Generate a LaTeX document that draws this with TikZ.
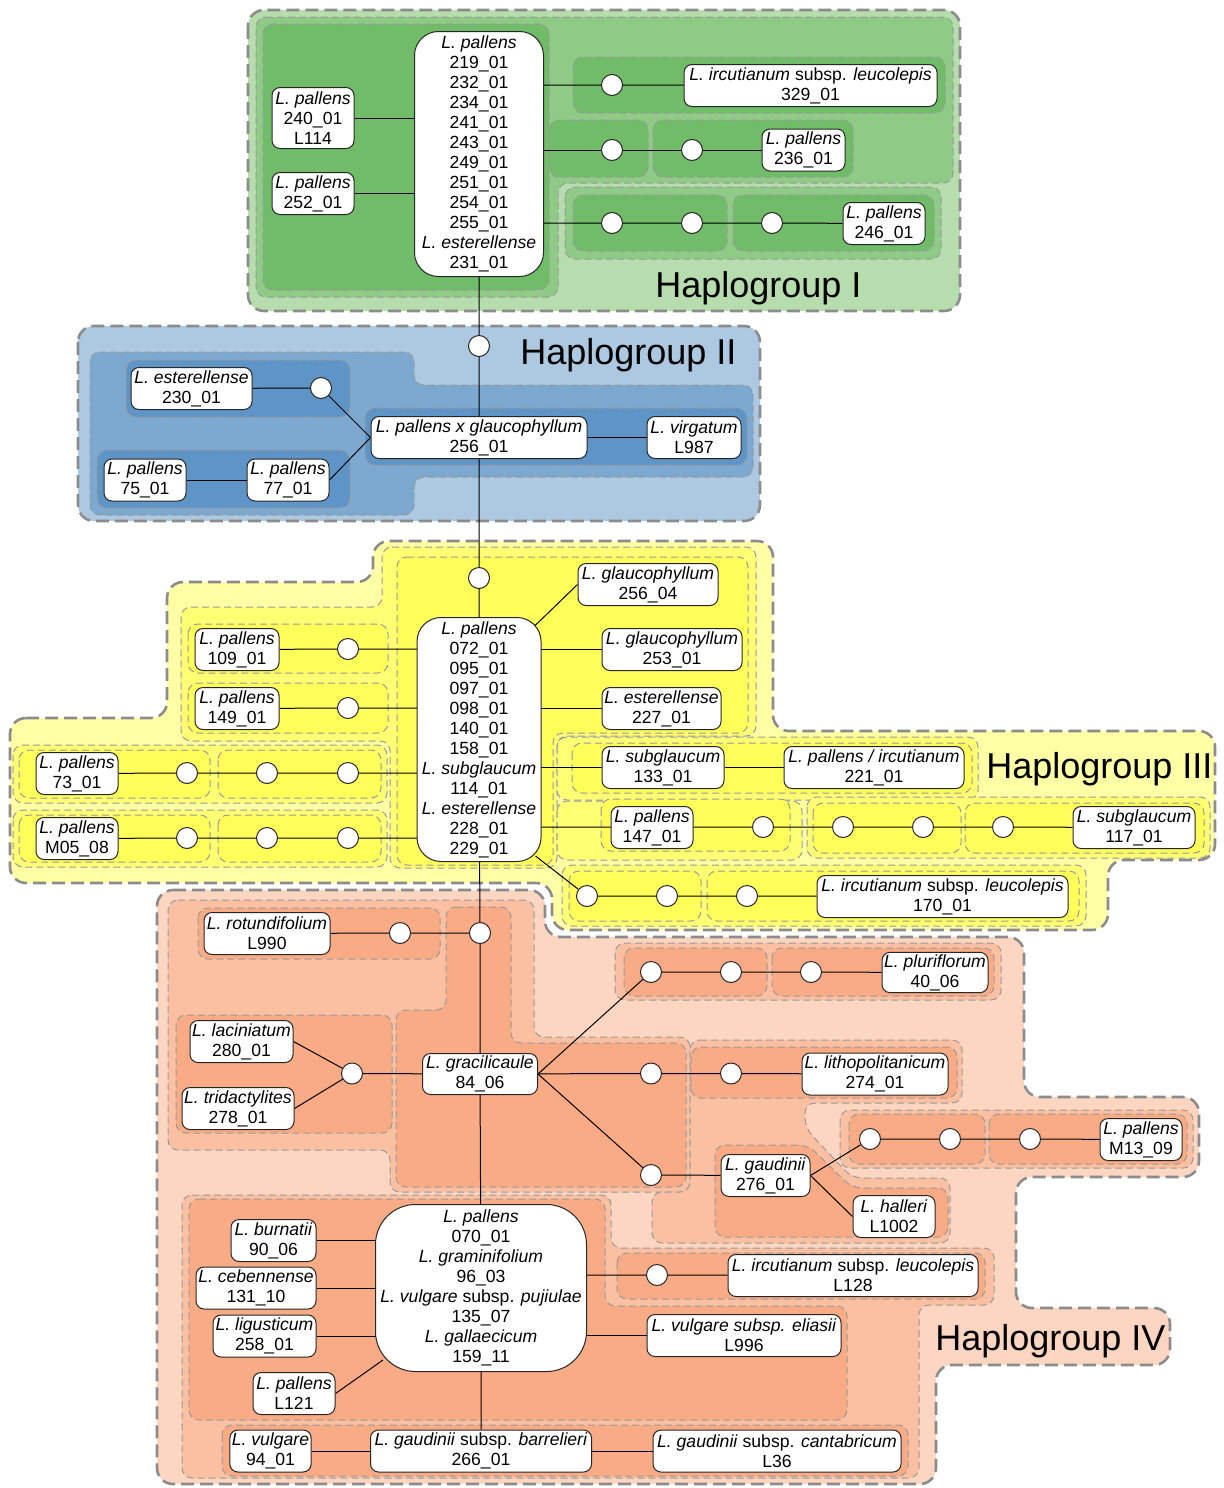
\documentclass[tikz,border=0pt]{standalone}
\usepackage{fontspec}
\setmainfont{Liberation Sans}
\pgfdeclarelayer{regions}
\pgfdeclarelayer{links}
\pgfsetlayers{regions,links,main}

\definecolor{gOut}{RGB}{183,221,175}
\definecolor{gMid}{RGB}{143,203,134}
\definecolor{gDk}{RGB}{113,188,104}
\definecolor{bOut}{RGB}{173,201,225}
\definecolor{bMid}{RGB}{125,169,209}
\definecolor{bDk}{RGB}{95,149,198}
\definecolor{yOut}{RGB}{255,255,166}
\definecolor{yMid}{RGB}{255,255,116}
\definecolor{yDk}{RGB}{255,255,90}
\definecolor{sOut}{RGB}{253,214,194}
\definecolor{sMid}{RGB}{251,192,161}
\definecolor{sDk}{RGB}{249,171,134}

\tikzset{
  hgA/.style={draw=black!45, line width=1.3pt, dash pattern=on 6.5pt off 3pt, rounded corners=8pt},
  hgB/.style={draw=black!40, line width=0.5pt, dash pattern=on 3.5pt off 2pt, rounded corners=5pt},
  tx/.style={draw=black!85, fill=white, rounded corners=4pt, line width=0.5pt, align=center,
    inner xsep=1pt, inner ysep=1pt, font=\fontsize{8.8}{10}\selectfont, minimum height=21pt},
  bignode/.style={tx, rounded corners=12pt},
  dot/.style={circle, draw=black!85, fill=white, line width=0.5pt, minimum size=10.5pt, inner sep=0pt},
  link/.style={draw=black, line width=0.5pt},
  hglabel/.style={font=\fontsize{18}{20}\selectfont, inner sep=0pt, anchor=base west},
}

\begin{document}
\begin{tikzpicture}[x=0.5pt,y=-0.5pt]
\useasboundingbox (0,0) rectangle (1224,1488);

% ---------------- nodes ----------------
% Haplogroup I
\node[bignode, minimum width=64.5pt, minimum height=122.5pt] (bigI) at (479,154)
  {\textit{L. pallens}\\219\_01\\232\_01\\234\_01\\241\_01\\243\_01\\249\_01\\251\_01\\254\_01\\255\_01\\\textit{L. esterellense}\\231\_01};
\node[tx, minimum width=41pt, minimum height=30.5pt] (n240) at (313,118) {\textit{L. pallens}\\240\_01\\L114};
\node[tx, minimum width=41pt] (n252) at (313,193.5) {\textit{L. pallens}\\252\_01};
\node[dot] (cI1) at (612,85) {};
\node[tx, minimum width=126.5pt] (n329) at (810.5,85.5) {\textit{L. ircutianum} subsp. \textit{leucolepis}\\329\_01};
\node[dot] (cI2) at (612,150) {};
\node[dot] (cI3) at (692,150) {};
\node[tx, minimum width=41.5pt] (n236) at (803.5,150) {\textit{L. pallens}\\236\_01};
\node[dot] (cI4) at (612,223) {};
\node[dot] (cI5) at (692,223) {};
\node[dot] (cI6) at (772,223) {};
\node[tx, minimum width=41pt] (n246) at (884,223.5) {\textit{L. pallens}\\246\_01};
\node[hglabel] (hI) at (655,297) {Haplogroup I};

% Haplogroup II
\node[dot] (cII0) at (479,346) {};
\node[tx, minimum width=60.5pt] (n230) at (191.5,388.5) {\textit{L. esterellense}\\230\_01};
\node[dot] (cII1) at (321,388) {};
\node[tx, minimum width=41pt] (n75) at (145,480) {\textit{L. pallens}\\75\_01};
\node[tx, minimum width=41pt] (n77) at (288,480) {\textit{L. pallens}\\77\_01};
\node[tx, minimum width=108pt] (n256) at (479,437.5) {\textit{L. pallens x glaucophyllum}\\256\_01};
\node[tx, minimum width=47pt] (nL987) at (694,437.5) {\textit{L. virgatum}\\L987};
\node[hglabel] (hII) at (520,364) {Haplogroup II};

% Haplogroup III
\node[dot] (cIII0) at (479,578) {};
\node[bignode, minimum width=62pt, minimum height=122pt] (bigIII) at (479,739.5)
  {\textit{L. pallens}\\072\_01\\095\_01\\097\_01\\098\_01\\140\_01\\158\_01\\\textit{L. subglaucum}\\114\_01\\\textit{L. esterellense}\\228\_01\\229\_01};
\node[tx, minimum width=70pt] (n25604) at (648,584.5) {\textit{L. glaucophyllum}\\256\_04};
\node[tx, minimum width=70pt] (n253) at (672,649.5) {\textit{L. glaucophyllum}\\253\_01};
\node[tx, minimum width=59.5pt] (n227) at (661.5,708.5) {\textit{L. esterellense}\\227\_01};
\node[tx, minimum width=61pt] (n133) at (663,767.5) {\textit{L. subglaucum}\\133\_01};
\node[tx, minimum width=90pt] (n221) at (874,767.5) {\textit{L. pallens / ircutianum}\\221\_01};
\node[tx, minimum width=41pt] (n147) at (652,827.5) {\textit{L. pallens}\\147\_01};
\node[dot] (c147) at (763,827) {};
\node[dot] (c117a) at (843,827) {};
\node[dot] (c117b) at (923,827) {};
\node[dot] (c117c) at (1003,827) {};
\node[tx, minimum width=61pt] (n117) at (1134,827.5) {\textit{L. subglaucum}\\117\_01};
\node[dot] (c170a) at (587,896) {};
\node[dot] (c170b) at (667,896) {};
\node[dot] (c170c) at (747,896) {};
\node[tx, minimum width=125.5pt] (n170) at (942.5,896.5) {\textit{L. ircutianum} subsp. \textit{leucolepis}\\170\_01};
\node[tx, minimum width=42pt] (n109) at (237,649.5) {\textit{L. pallens}\\109\_01};
\node[dot] (c109) at (348,649) {};
\node[tx, minimum width=42pt] (n149) at (237,708.5) {\textit{L. pallens}\\149\_01};
\node[dot] (c149) at (348,708) {};
\node[tx, minimum width=41pt] (n73) at (77,773.5) {\textit{L. pallens}\\73\_01};
\node[dot] (c73a) at (187,773) {};
\node[dot] (c73b) at (267,773) {};
\node[dot] (c73c) at (348,773) {};
\node[tx, minimum width=41pt] (nM05) at (77,838.5) {\textit{L. pallens}\\M05\_08};
\node[dot] (cM05a) at (187,838) {};
\node[dot] (cM05b) at (267,838) {};
\node[dot] (cM05c) at (348,838) {};
\node[hglabel] (hIII) at (986,778) {Haplogroup III};

% Haplogroup IV
\node[dot] (cIV0) at (480,933) {};
\node[dot] (cL990) at (400,933) {};
\node[tx, minimum width=63pt] (nL990) at (267,933.5) {\textit{L. rotundifolium}\\L990};
\node[tx, minimum width=57.5pt, minimum height=20.5pt] (n84) at (480,1074) {\textit{L. gracilicaule}\\84\_06};
\node[dot] (cLac) at (352,1073.5) {};
\node[tx, minimum width=51.5pt] (n280) at (241.5,1041.5) {\textit{L. laciniatum}\\280\_01};
\node[tx, minimum width=56pt] (n278) at (238,1108.5) {\textit{L. tridactylites}\\278\_01};
\node[dot] (cPl1) at (651,972) {};
\node[dot] (cPl2) at (731,972) {};
\node[dot] (cPl3) at (811,972) {};
\node[tx, minimum width=53pt, minimum height=20pt] (n40) at (935,972.5) {\textit{L. pluriflorum}\\40\_06};
\node[dot] (cLi1) at (651,1073.5) {};
\node[dot] (cLi2) at (731,1073.5) {};
\node[tx, minimum width=73pt] (n274) at (875,1074) {\textit{L. lithopolitanicum}\\274\_01};
\node[dot] (cGa) at (651,1175) {};
\node[tx, minimum width=44.5pt] (n276) at (765.5,1175.5) {\textit{L. gaudinii}\\276\_01};
\node[tx, minimum width=41pt] (n1002) at (894,1216.5) {\textit{L. halleri}\\L1002};
\node[dot] (cM1) at (870,1139) {};
\node[dot] (cM2) at (950,1139) {};
\node[dot] (cM3) at (1030,1139) {};
\node[tx, minimum width=41pt] (nM13) at (1141,1139.5) {\textit{L. pallens}\\M13\_09};
\node[tx, rounded corners=20pt, minimum width=105.5pt, minimum height=83.5pt] (bigIV) at (481,1288)
  {\textit{L. pallens}\\070\_01\\\textit{L. graminifolium}\\96\_03\\\textit{L. vulgare} subsp. \textit{pujiulae}\\135\_07\\\textit{L. gallaecicum}\\159\_11};
\node[tx, minimum width=42.5pt] (n90) at (273.5,1240.5) {\textit{L. burnatii}\\90\_06};
\node[tx, minimum width=60pt] (n131) at (256,1288) {\textit{L. cebennense}\\131\_10};
\node[tx, minimum width=51.5pt] (n258) at (264.5,1336) {\textit{L. ligusticum}\\258\_01};
\node[tx, minimum width=41pt] (nL121) at (294,1393.5) {\textit{L. pallens}\\L121};
\node[dot] (cL128) at (657,1275) {};
\node[tx, minimum width=125pt] (nL128) at (853,1275.5) {\textit{L. ircutianum} subsp. \textit{leucolepis}\\L128};
\node[tx, minimum width=97pt] (nL996) at (744,1335.5) {\textit{L. vulgare subsp. eliasii}\\L996};
\node[tx, minimum width=40.5pt] (n94) at (270.5,1451) {\textit{L. vulgare}\\94\_01};
\node[tx, minimum width=110.5pt] (n266) at (481,1451) {\textit{L. gaudinii} subsp. \textit{barrelieri}\\266\_01};
\node[tx, minimum width=124pt] (nL36) at (777,1451) {\textit{L. gaudinii} subsp. \textit{cantabricum}\\L36};
\node[hglabel] (hIV) at (935,1350) {Haplogroup IV};

% ---------------- connectors ----------------
\begin{pgfonlayer}{links}
% main backbone
\draw[link] (bigI) -- (cII0) -- (n256) -- (cIII0) -- (bigIII) -- (cIV0) -- (n84) -- (bigIV) -- (n266);
% Haplogroup I
\draw[link] (n240) -- (n240 -| bigI);
\draw[link] (n252) -- (n252 -| bigI);
\draw[link] (cI1 -| bigI) -- (cI1) -- (n329);
\draw[link] (cI2 -| bigI) -- (cI2) -- (cI3) -- (n236);
\draw[link] (cI4 -| bigI) -- (cI4) -- (cI5) -- (cI6) -- (n246);
% Haplogroup II
\draw[link] (n230) -- (cII1) -- (n256.west);
\draw[link] (n75) -- (n77);
\draw[link] (n77.east) -- (n256.west);
\draw[link] (n256) -- (nL987);
% Haplogroup III
\draw[link] ([xshift=-5pt,yshift=-6pt]bigIII.north east) -- (n25604.west);
\draw[link] (n253 -| bigIII) -- (n253);
\draw[link] (n227 -| bigIII) -- (n227);
\draw[link] (n133 -| bigIII) -- (n133) -- (n221);
\draw[link] (c147 -| bigIII) -- (c147) -- (c117a) -- (c117b) -- (c117c) -- (n117);
\draw[link] ([xshift=-3pt,yshift=3pt]bigIII.south east) -- (c170a) -- (c170b) -- (c170c) -- (n170);
\draw[link] (n109) -- (c109) -- (c109 -| bigIII);
\draw[link] (n149) -- (c149) -- (c149 -| bigIII);
\draw[link] (n73) -- (c73a) -- (c73b) -- (c73c) -- (c73c -| bigIII);
\draw[link] (nM05) -- (cM05a) -- (cM05b) -- (cM05c) -- (cM05c -| bigIII);
% Haplogroup IV
\draw[link] (cIV0) -- (cL990) -- (nL990);
\draw[link] (n84) -- (cLac);
\draw[link] (cLac) -- (n280.east);
\draw[link] (cLac) -- (n278.east);
\draw[link] (n84.east) -- (cPl1) -- (cPl2) -- (cPl3) -- (n40);
\draw[link] (n84) -- (cLi1) -- (cLi2) -- (n274);
\draw[link] (n84.east) -- (cGa) -- (n276);
\draw[link] (n276.east) -- (cM1) -- (cM2) -- (cM3) -- (nM13);
\draw[link] (n276.east) -- (n1002.west);
\draw[link] (n90) -- (n90 -| bigIV);
\draw[link] (n131) -- (n131 -| bigIV);
\draw[link] (n258) -- (n258 -| bigIV);
\draw[link] (nL121.east) -- ([xshift=4pt,yshift=6pt]bigIV.south west);
\draw[link] (cL128 -| bigIV) -- (cL128) -- (nL128);
\draw[link] (nL996 -| bigIV) -- (nL996);
\draw[link] (n94) -- (n266) -- (nL36);
\end{pgfonlayer}

% ---------------- shaded groups ----------------
\begin{pgfonlayer}{regions}
% Haplogroup I
\path[hgA, fill=gOut] (248,10) rectangle (960,311);
\path[hgB, fill=gMid] (256,17) -- (953,17) -- (953,183) -- (558,183) -- (558,297) -- (256,297) -- cycle;
\path[hgB, fill=gDk] (263,24) rectangle (549,290);
\path[hgB, fill=gDk] (573,57) rectangle (945,113);
\path[hgB, fill=gDk] (549,120) rectangle (648,177);
\path[hgB, fill=gDk] (653,120) rectangle (853,177);
\path[hgB, fill=gMid] (565,187) rectangle (941,259);
\path[hgB, fill=gDk] (573,195) rectangle (727,251);
\path[hgB, fill=gDk] (733,195) rectangle (934,251);
% Haplogroup II
\path[hgA, fill=bOut] (78,326) rectangle (760,521);
\path[hgB, fill=bMid] (90,352) -- (414,352) -- (414,385) -- (753,385) -- (753,477) -- (414,477) -- (414,515) -- (90,515) -- cycle;
\path[hgB, fill=bDk] (126,360) rectangle (350,417);
\path[hgB, fill=bDk] (97,450) rectangle (350,508);
\path[hgB, fill=bDk] (365,408) rectangle (747,465);
% Haplogroup III
\path[hgA, fill=yOut] (10,718) -- (167,718) -- (167,582) -- (373,582) -- (373,541) -- (773,541) -- (773,731)
  -- (1215,731) -- (1215,860) -- (1108,860) -- (1108,930) -- (552,930) -- (552,883) -- (10,883) -- cycle;
\path[hgB, fill=yMid] (382,547) -- (756,547) -- (756,736) -- (557,736) -- (557,868) -- (390,868) -- (390,741)
  -- (181,741) -- (181,607) -- (382,607) -- cycle;
\path[hgB, fill=yDk] (397,557) -- (748,557) -- (748,733) -- (553,733) -- (553,865) -- (397,865) -- cycle;
\path[hgB, fill=yDk] (188,624) rectangle (388,673);
\path[hgB, fill=yDk] (188,683) rectangle (388,733);
\path[hgB, fill=yMid] (13,745) rectangle (387,803);
\path[hgB, fill=yDk] (19,750) rectangle (210,798);
\path[hgB, fill=yDk] (218,750) rectangle (381,798);
\path[hgB, fill=yMid] (13,810) rectangle (387,867);
\path[hgB, fill=yDk] (19,815) rectangle (210,862);
\path[hgB, fill=yDk] (218,815) rectangle (381,862);
\path[hgB, fill=yMid] (557,737) rectangle (978,800);
\path[hgB, fill=yDk] (572,743) rectangle (972,793);
\path[hgB, fill=yMid] (557,801) rectangle (802,860);
\path[hgB, fill=yDk] (601,799) rectangle (790,851);
\path[hgB, fill=yMid] (807,797) rectangle (1210,858);
\path[hgB, fill=yDk] (813,803) rectangle (961,853);
\path[hgB, fill=yDk] (965,803) rectangle (1204,853);
\path[hgB, fill=yMid] (562,865) rectangle (1086,926);
\path[hgB, fill=yDk] (569,871) rectangle (701,921);
\path[hgB, fill=yDk] (707,871) rectangle (1079,921);
% Haplogroup IV
\path[hgA, fill=sOut] (157,890) -- (545,890) -- (545,937) -- (1024,937) -- (1024,1097) -- (1199,1097)
  -- (1199,1177) -- (1016,1177) -- (1016,1308) -- (1170,1308) -- (1170,1365) -- (936,1365)
  -- (936,1484) -- (157,1484) -- cycle;
\path[hgB, fill=sMid] (168,900) -- (534,900) -- (534,1037) -- (690,1037) -- (690,1192) -- (390,1192)
  -- (390,1150) -- (168,1150) -- cycle;
\path[hgB, fill=sDk] (198,908) rectangle (440,959);
\path[hgB, fill=sDk] (446,907) -- (511,907) -- (511,1043) -- (686,1043) -- (686,1187) -- (396,1187)
  -- (396,1010) -- (446,1010) -- cycle;
\path[hgB, fill=sDk] (176,1015) rectangle (392,1133);
\path[hgB, fill=sMid] (615,943) rectangle (1001,1000);
\path[hgB, fill=sDk] (624,948) rectangle (767,996);
\path[hgB, fill=sDk] (772,948) rectangle (994,996);
\path[hgB, fill=sMid] (690,1040) -- (962,1040) -- (962,1103) -- (805,1103) -- (805,1128) -- (852,1178)
  -- (950,1178) -- (950,1243) -- (652,1243) -- (652,1192) -- (690,1192) -- cycle;
\path[hgB, fill=sDk] (691,1047) rectangle (957,1098);
\path[hgB, fill=sDk] (715,1145) -- (808,1145) -- (852,1188) -- (948,1188) -- (948,1237) -- (715,1237) -- cycle;
\path[hgB, fill=sMid] (840,1110) rectangle (1193,1168);
\path[hgB, fill=sDk] (849,1114) rectangle (985,1164);
\path[hgB, fill=sDk] (989,1114) rectangle (1187,1164);
\path[hgB, fill=sMid] (182,1195) -- (611,1195) -- (611,1248) -- (994,1248) -- (994,1305) -- (919,1305)
  -- (919,1478) -- (182,1478) -- cycle;
\path[hgB, fill=sDk] (617,1253) rectangle (985,1299);
\path[hgB, fill=sDk] (189,1199) -- (605,1199) -- (605,1306) -- (847,1306) -- (847,1420) -- (189,1420) -- cycle;
\path[hgB, fill=sDk] (222,1425) rectangle (908,1476);
\end{pgfonlayer}
\end{tikzpicture}
\end{document}
